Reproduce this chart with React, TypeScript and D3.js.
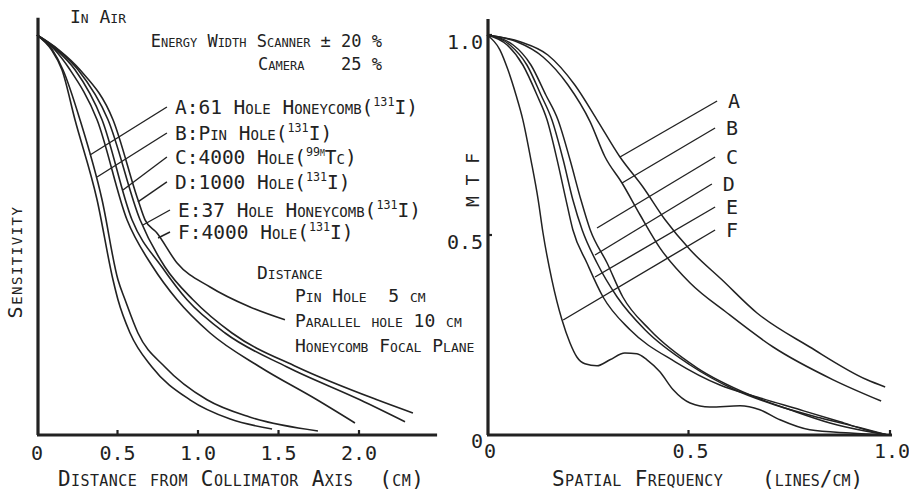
import React, { useEffect, useRef } from 'react';
import * as d3 from 'd3';

// ==== values

// left panel: sensitivity vs distance from collimator axis (cm)
const sensSteep1 = [[0, 1], [0.09, 0.963], [0.155, 0.913], [0.236, 0.788], [0.373, 0.588], [0.472, 0.388], [0.503, 0.338], [0.578, 0.255], [0.714, 0.17], [0.95, 0.088], [1.2, 0.04], [1.46, 0.015]];
const sensSteep2 = [[0, 1], [0.095, 0.963], [0.161, 0.913], [0.267, 0.788], [0.404, 0.588], [0.503, 0.388], [0.547, 0.338], [0.627, 0.255], [0.795, 0.17], [1.056, 0.088], [1.32, 0.045], [1.745, 0.01]];
const sensMid1 = [[0, 1], [0.11, 0.963], [0.205, 0.913], [0.373, 0.788], [0.559, 0.538], [0.72, 0.42], [0.87, 0.338], [1.075, 0.255], [1.385, 0.17], [1.739, 0.088], [1.975, 0.03]];
const sensMid2 = [[0, 1], [0.12, 0.963], [0.236, 0.913], [0.404, 0.788], [0.59, 0.538], [0.776, 0.42], [0.932, 0.338], [1.168, 0.255], [1.553, 0.17], [2.006, 0.088], [2.286, 0.033]];
const sensMid3 = [[0, 1], [0.13, 0.963], [0.255, 0.913], [0.441, 0.788], [0.64, 0.538], [0.795, 0.42], [0.969, 0.338], [1.211, 0.255], [1.615, 0.17], [2.112, 0.088], [2.335, 0.055]];
const sensWide = [[0, 1], [0.135, 0.963], [0.267, 0.913], [0.472, 0.788], [0.627, 0.588], [0.671, 0.538], [0.745, 0.505], [0.87, 0.43], [1.075, 0.37], [1.323, 0.32], [1.54, 0.288]];

const leftTicks = [0, 0.5, 1.0, 1.5, 2.0];
const leftTickLabels = ['0', '0.5', '1.0', '1.5', '2.0'];

const leftLegend = [
  'A:61 Hole Honeycomb(^131^I)',
  'B:Pin Hole(^131^I)',
  'C:4000 Hole(^99m^Tc)',
  'D:1000 Hole(^131^I)',
  'E:37 Hole Honeycomb(^131^I)',
  'F:4000 Hole(^131^I)',
];
// leader lines: [x1, y1, x2, y2] in data units
const leftLeaders = [
  [0.807, 0.82, 0.329, 0.7],
  [0.807, 0.755, 0.373, 0.645],
  [0.807, 0.695, 0.534, 0.6125],
  [0.807, 0.633, 0.627, 0.583],
  [0.826, 0.5625, 0.658, 0.525],
  [0.826, 0.5075, 0.752, 0.4925],
];

// right panel: MTF vs spatial frequency (lines/cm)
const mtfA = [[0, 1], [0.082, 0.983], [0.151, 0.95], [0.218, 0.875], [0.273, 0.788], [0.33, 0.695], [0.387, 0.62], [0.442, 0.538], [0.504, 0.463], [0.583, 0.388], [0.67, 0.305], [0.801, 0.22], [0.943, 0.138], [0.988, 0.12]];
const mtfB = [[0, 1], [0.074, 0.983], [0.139, 0.945], [0.201, 0.875], [0.256, 0.783], [0.293, 0.695], [0.335, 0.63], [0.38, 0.55], [0.429, 0.468], [0.504, 0.38], [0.596, 0.305], [0.71, 0.22], [0.859, 0.138], [0.978, 0.085]];
const mtfC = [[0, 1], [0.065, 0.975], [0.109, 0.925], [0.146, 0.85], [0.176, 0.788], [0.206, 0.688], [0.233, 0.588], [0.256, 0.513], [0.298, 0.43], [0.337, 0.345], [0.404, 0.263], [0.521, 0.168], [0.653, 0.1], [0.752, 0.063], [0.851, 0.03], [0.938, 0.01], [0.995, 0]];
const mtfD = [[0, 1], [0.057, 0.975], [0.099, 0.925], [0.134, 0.85], [0.161, 0.788], [0.189, 0.688], [0.213, 0.588], [0.236, 0.513], [0.273, 0.43], [0.323, 0.345], [0.392, 0.263], [0.504, 0.175], [0.615, 0.113], [0.715, 0.075], [0.826, 0.043], [0.926, 0.018], [0.995, 0]];
const mtfE = [[0, 1], [0.05, 0.975], [0.089, 0.925], [0.124, 0.85], [0.149, 0.788], [0.174, 0.688], [0.196, 0.588], [0.213, 0.513], [0.248, 0.43], [0.288, 0.345], [0.355, 0.263], [0.467, 0.183], [0.578, 0.125], [0.67, 0.095], [0.777, 0.063], [0.876, 0.033], [0.95, 0.01], [0.995, 0]];
const mtfF = [[0, 1], [0.032, 0.963], [0.052, 0.913], [0.072, 0.85], [0.089, 0.788], [0.109, 0.688], [0.127, 0.588], [0.139, 0.505], [0.161, 0.388], [0.186, 0.288], [0.206, 0.23], [0.223, 0.195], [0.243, 0.178], [0.273, 0.173], [0.305, 0.188], [0.342, 0.205], [0.372, 0.203], [0.397, 0.188], [0.429, 0.158], [0.462, 0.113], [0.504, 0.08], [0.553, 0.07], [0.628, 0.073], [0.677, 0.063], [0.727, 0.038], [0.801, 0.013], [0.901, 0.005], [0.995, 0]];

const rightXTicks = [0, 0.5, 1.0];
const rightXTickLabels = ['0', '0.5', '1.0'];
const rightYTicks = [0, 0.5, 1.0];
const rightYTickLabels = ['0', '0.5', '1.0'];

const rightLegend = ['A', 'B', 'C', 'D', 'E', 'F'];
const rightLeaders = [
  [0.571, 0.835, 0.33, 0.695],
  [0.566, 0.7675, 0.335, 0.63],
  [0.566, 0.695, 0.273, 0.5175],
  [0.558, 0.6275, 0.268, 0.45],
  [0.566, 0.57, 0.268, 0.395],
  [0.566, 0.5125, 0.189, 0.2875],
];

// ====

const W = 909;
const H = 492;
const ink = '#222';
const FONT = '"DejaVu Sans Mono", monospace';

type Sel = d3.Selection<any, any, any, any>;

// text with ^superscript^ parts, small caps like the typed original
function richText(g: Sel, x: number, y: number, str: string, size: number, anchor = 'start', spacing = 0) {
  const t = g.append('text')
    .attr('x', x)
    .attr('y', y)
    .attr('font-family', FONT)
    .attr('font-size', size)
    .attr('fill', ink)
    .attr('text-anchor', anchor)
    .attr('letter-spacing', spacing)
    .style('font-variant', 'small-caps')
    .style('white-space', 'pre');
  let shift = 0;
  str.split('^').forEach((part, i) => {
    if (!part) return;
    const sup = i % 2 === 1;
    const target = sup ? -size * 0.4 : 0;
    t.append('tspan')
      .attr('font-size', sup ? size * 0.6 : size)
      .attr('dy', target - shift)
      .text(part);
    shift = target;
  });
  return t;
}

function drawLeft(svg: Sel) {
  const x = d3.scaleLinear().domain([0, 2.5]).range([37, 439.5]);
  const y = d3.scaleLinear().domain([0, 1]).range([435, 35]);
  const g = svg.append('g');

  const line = d3.line<number[]>()
    .x((d) => x(d[0]))
    .y((d) => y(d[1]))
    .curve(d3.curveMonotoneX);

  [sensSteep1, sensSteep2, sensMid1, sensMid2, sensMid3, sensWide].forEach((s) => {
    g.append('path').attr('d', line(s)).attr('fill', 'none').attr('stroke', ink).attr('stroke-width', 1.6);
  });

  // axes
  g.append('line').attr('x1', x(0) + 1).attr('x2', x(0) + 1).attr('y1', y(0)).attr('y2', y(1.043))
    .attr('stroke', ink).attr('stroke-width', 3.2);
  g.append('line').attr('x1', x(0)).attr('x2', x(2.485)).attr('y1', y(0)).attr('y2', y(0))
    .attr('stroke', ink).attr('stroke-width', 3.2);
  leftTicks.forEach((v, i) => {
    if (v > 0) {
      g.append('line').attr('x1', x(v)).attr('x2', x(v)).attr('y1', y(0)).attr('y2', y(0) - 5)
        .attr('stroke', ink).attr('stroke-width', 2.2);
    }
    richText(g, x(v), 460, leftTickLabels[i], 20, 'middle');
  });

  // leaders + legend
  leftLeaders.forEach((d, i) => {
    g.append('line').attr('x1', x(d[0])).attr('y1', y(d[1])).attr('x2', x(d[2])).attr('y2', y(d[3]))
      .attr('stroke', ink).attr('stroke-width', 1.4);
    richText(g, x(d[0]) + 8, y(d[1]) + 7, leftLegend[i], 19.5);
  });

  richText(g, 70, 23, 'In Air', 18);
  richText(g, 382, 47, 'Energy Width Scanner ± 20 %', 17, 'end');
  richText(g, 258, 70, 'Camera', 17);
  richText(g, 382, 70, '25 %', 17, 'end');
  richText(g, 257, 279, 'Distance', 18);
  richText(g, 295, 302, 'Pin Hole  5 cm', 18);
  richText(g, 295, 327, 'Parallel hole 10 cm', 18);
  richText(g, 295, 352, 'Honeycomb Focal Plane', 18);

  richText(g, 58, 486, 'Distance from Collimator Axis  (cm)', 21, 'start', 0.4);
  richText(g, 0, 0, 'Sensitivity', 20, 'middle', 1.5).attr('transform', 'translate(22,262) rotate(-90)');
}

function drawRight(svg: Sel) {
  const x = d3.scaleLinear().domain([0, 1]).range([487, 890]);
  const y = d3.scaleLinear().domain([0, 1]).range([435, 35]);
  const g = svg.append('g');

  const line = d3.line<number[]>()
    .x((d) => x(d[0]))
    .y((d) => y(d[1]))
    .curve(d3.curveMonotoneX);

  [mtfA, mtfB, mtfC, mtfD, mtfE, mtfF].forEach((s) => {
    g.append('path').attr('d', line(s)).attr('fill', 'none').attr('stroke', ink).attr('stroke-width', 1.5);
  });

  g.append('line').attr('x1', x(0) + 1).attr('x2', x(0) + 1).attr('y1', y(0)).attr('y2', y(1.04))
    .attr('stroke', ink).attr('stroke-width', 3.2);
  g.append('line').attr('x1', x(0)).attr('x2', x(1.005)).attr('y1', y(0)).attr('y2', y(0))
    .attr('stroke', ink).attr('stroke-width', 3.2);

  rightXTicks.forEach((v, i) => {
    if (v > 0) {
      g.append('line').attr('x1', x(v)).attr('x2', x(v)).attr('y1', y(0)).attr('y2', y(0) - 5)
        .attr('stroke', ink).attr('stroke-width', 2.2);
    }
    richText(g, x(v) + (v === 0 ? 3 : 2), 458, rightXTickLabels[i], 20, 'middle');
  });
  rightYTicks.forEach((v, i) => {
    if (v > 0) {
      g.append('line').attr('x1', x(0)).attr('x2', x(0) + 5).attr('y1', y(v)).attr('y2', y(v))
        .attr('stroke', ink).attr('stroke-width', 2.2);
    }
    richText(g, x(0) - 4, v === 0 ? 448 : y(v) + 14, rightYTickLabels[i], 20, 'end');
  });

  rightLeaders.forEach((d, i) => {
    g.append('line').attr('x1', x(d[0])).attr('y1', y(d[1])).attr('x2', x(d[2])).attr('y2', y(d[3]))
      .attr('stroke', ink).attr('stroke-width', 1.4);
    richText(g, x(d[0]) + 11, y(d[1]) + 7, rightLegend[i], 20);
  });

  richText(g, 552, 486, 'Spatial Frequency', 21, 'start', 0.4);
  richText(g, 762, 486, '(lines/cm)', 21);
  richText(g, 0, 0, 'M T F', 18, 'middle').attr('transform', 'translate(479,180) rotate(-90)');
}

const App = () => {
  const ref = useRef<SVGSVGElement>(null);

  useEffect(() => {
    const svg = d3.select(ref.current);
    svg.selectAll('*').remove();
    svg.append('rect').attr('width', W).attr('height', H).attr('fill', '#fff');
    drawLeft(svg);
    drawRight(svg);
  }, []);

  return (
    <svg
      ref={ref}
      width={W}
      height={H}
      style={{ position: 'absolute', left: 0, top: 0 }}
    />
  );
};

export default App;
